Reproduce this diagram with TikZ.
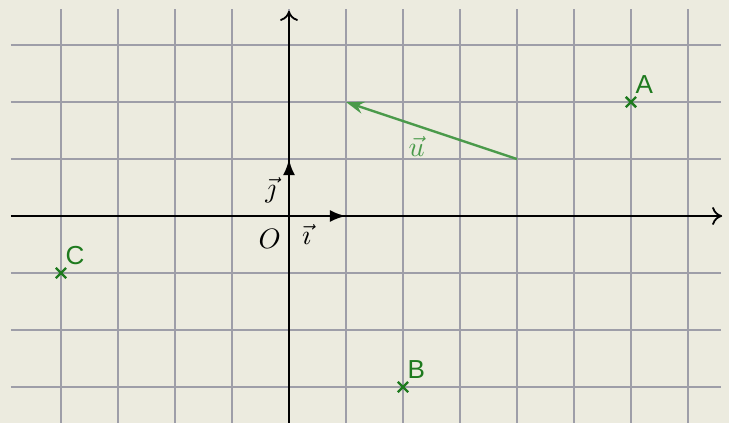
\documentclass[tikz,border=0pt]{standalone}
\usepackage{graphicx}
\usepackage{fontspec}
\setsansfont{Liberation Sans}
\usetikzlibrary{arrows.meta,calc}
\definecolor{bg}{HTML}{ECEBDF}
\definecolor{gridc}{HTML}{9E9EA8}
\definecolor{ptc}{HTML}{1E7A1E}
\definecolor{vecc}{HTML}{4A9A4A}
\newcommand{\myscaledmath}[1]{\scalebox{1.4}{$#1$}}
\tikzset{
  gridline/.style={gridc, line width=0.7pt},
  axis/.style={black, line width=0.9pt, -{To[length=5pt,width=9pt]}},
  basevec/.style={black, line width=1.4pt, -{Latex[length=8pt,width=6pt]}},
  uvec/.style={vecc, line width=1.2pt, -{Stealth[length=9pt,width=6pt]}},
  pt/.style={ptc, line width=1.2pt},
  ptlabel/.style={ptc, font=\sffamily\fontsize{13}{15}\selectfont, inner sep=1pt},
  mathlabel/.style={inner sep=1pt}
}
\begin{document}
\begin{tikzpicture}[x=1cm,y=1cm]
\fill[bg] (-5.07,-3.63) rectangle (7.72,3.79);
\useasboundingbox (-5.07,-3.63) rectangle (7.72,3.79);
% grid
\foreach \x in {-4,...,7} \draw[gridline] (\x,-3.7) -- (\x,3.63);
\foreach \y in {-3,...,3} \draw[gridline] (-4.88,\y) -- (7.58,\y);
% axes
\coordinate (xs) at (-4.88,0);
\coordinate (xe) at (7.6,0);
\coordinate (ys) at (0,-3.7);
\coordinate (ye) at (0,3.6);
\draw[axis] (xs) -- (xe);
\draw[axis] (ys) -- (ye);
% base vectors
\coordinate (O) at (0,0);
\coordinate (I) at (1,0);
\coordinate (J) at (0,1);
\draw[basevec] (O) -- (I);
\draw[basevec] (O) -- (J);
\node[mathlabel] (lo) at (-0.34,-0.4) {\myscaledmath{O}};
\node[mathlabel] (li) at (0.31,-0.33) {\myscaledmath{\vec{\imath}}};
\node[mathlabel] (lj) at (-0.32,0.45) {\myscaledmath{\vec{\jmath}}};
% vector u
\coordinate (u1) at (4,1);
\coordinate (u2) at (1,2);
\draw[uvec] (u1) -- (u2);
\node[mathlabel, vecc] (lu) at (2.24,1.22) {\myscaledmath{\vec{u}}};
% points
\foreach \n/\px/\py in {A/6/2,B/2/-3,C/-4/-1}{
  \coordinate (\n) at (\px,\py);
  \draw[pt] ($(\n)+(-0.09,-0.09)$) -- ($(\n)+(0.09,0.09)$);
  \draw[pt] ($(\n)+(-0.09,0.09)$) -- ($(\n)+(0.09,-0.09)$);
  \node[ptlabel, anchor=south west] (l\n) at ($(\n)+(0.04,0.1)$) {\n};
}
\end{tikzpicture}
\end{document}
